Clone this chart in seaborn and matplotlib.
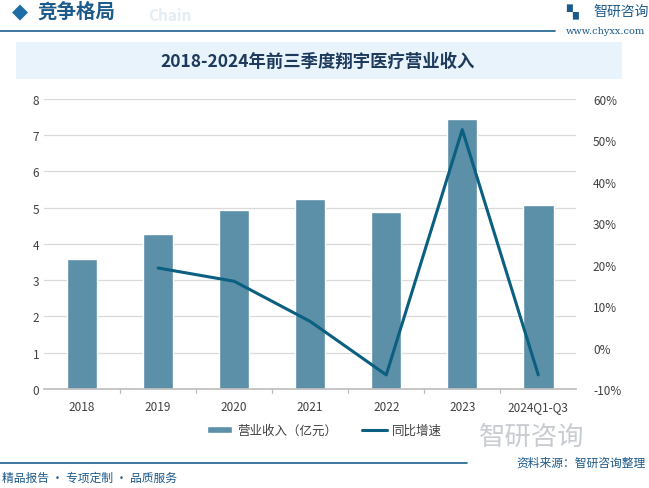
import numpy as np
import pandas as pd
import matplotlib
matplotlib.use("Agg")
import matplotlib.pyplot as plt
import seaborn as sns

# data
years = ["2018", "2019", "2020", "2021", "2022", "2023", "2024Q1-Q3"]
revenue = [3.59, 4.28, 4.94, 5.24, 4.88, 7.45, 5.08]
growth = [None, 19.2, 16.0, 6.3, -6.6, 52.6, -6.6]

bar_color = "#5c8fa8"
line_color = "#0b5f80"
dark_blue = "#1a5f8f"

sns.set_theme(style="white")
plt.rcParams['font.family'] = ['Noto Sans CJK SC', 'DejaVu Sans']

fig = plt.figure(figsize=(6.49, 4.89), dpi=100)
ax = fig.add_axes([0.068, 0.2025, 0.82, 0.593])

df = pd.DataFrame({"year": years, "revenue": revenue})
sns.barplot(data=df, x="year", y="revenue", color=bar_color, width=0.4,
            saturation=1, ax=ax, label="营业收入（亿元）")
ax.set_ylim(0, 8)
ax.set_yticks(range(0, 9))
ax.set_xlim(-0.5, len(years) - 0.5)
ax.set_xlabel("")
ax.set_ylabel("")
ax.grid(axis="y", color="#d9d9d9", linewidth=0.9)
ax.set_axisbelow(True)
for s in ["top", "right", "left"]:
    ax.spines[s].set_visible(False)
ax.spines["bottom"].set_color("#bfbfbf")
ax.tick_params(axis="both", colors="#404040", labelsize=8.5, length=0)
ax.tick_params(axis="x", pad=8)

# category separators on the x axis
for b in np.arange(0.5, len(years) - 1, 1.0):
    ax.plot([b, b], [0, -0.12], color="#bfbfbf", lw=0.9, clip_on=False)

ax2 = ax.twinx()
gdf = pd.DataFrame({"x": np.arange(len(years))[1:], "growth": growth[1:]})
sns.lineplot(data=gdf, x="x", y="growth", color=line_color, linewidth=2.2,
             ax=ax2, label="同比增速")
ax2.set_ylim(-10, 60)
ax2.set_yticks(range(-10, 61, 10))
ax2.set_yticklabels([f"{v}%" for v in range(-10, 61, 10)])
ax2.set_ylabel("")
ax2.set_xlabel("")
for s in ["top", "right", "left", "bottom"]:
    ax2.spines[s].set_visible(False)
ax2.tick_params(axis="y", colors="#404040", labelsize=8.5, length=0, pad=12)
ax2.set_xlim(-0.5, len(years) - 0.5)

h1, l1 = ax.get_legend_handles_labels()
h2, l2 = ax2.get_legend_handles_labels()
if ax2.get_legend():
    ax2.get_legend().remove()
if ax.get_legend():
    ax.get_legend().remove()
fig.legend(h1 + h2, l1 + l2, loc="center", bbox_to_anchor=(0.5, 0.118), ncol=2,
           frameon=False, fontsize=9, handlelength=2.0, handleheight=0.5,
           columnspacing=2.0, handletextpad=0.4, labelcolor="#404040")

# header
fig.text(0.031, 0.975, "◆", color="#1c6ea4", fontsize=15, va="center", ha="center",
         family=["DejaVu Sans"])
fig.text(0.057, 0.975, "竞争格局", color="#1c5a8a", fontsize=14, fontweight="bold", va="center")
fig.text(0.228, 0.968, "Chain", color="#e3edf5", fontsize=11, fontweight="bold", va="center")
fig.add_artist(plt.Line2D([0, 0.855], [0.935, 0.935], color=dark_blue, lw=1.2))
fig.text(0.915, 0.975, "智研咨询", color="#1c5a8a", fontsize=10, va="center")
fig.text(0.872, 0.975, "▚", color="#1c5a8a", fontsize=11, va="center", family=["DejaVu Sans"])
fig.text(0.872, 0.936, "www.chyxx.com", color="#1c5a8a", fontsize=7, va="center",
         family=["DejaVu Serif"])

# title band
fig.patches.append(plt.Rectangle((0.024, 0.836), 0.934, 0.076, facecolor="#e8f3fb",
                                 edgecolor="none", transform=fig.transFigure, zorder=0))
fig.text(0.49, 0.873, "2018-2024年前三季度翔宇医疗营业收入", color="#1d3a5c",
         fontsize=12.5, fontweight="bold", ha="center", va="center")

# watermark logo lower right
fig.text(0.82, 0.105, "智研咨询", color="#c8ccd2", fontsize=19, ha="center", va="center")

# footer
fig.add_artist(plt.Line2D([0, 0.72], [0.052, 0.052], color=dark_blue, lw=1.2))
fig.text(0.995, 0.052, "资料来源：智研咨询整理", color="#1c5a8a", fontsize=8.5,
         ha="right", va="center")
fig.text(0.003, 0.022, "精品报告 · 专项定制 · 品质服务", color="#1c5a8a", fontsize=8.5,
         ha="left", va="center")

fig.savefig("out.png", dpi=100)
